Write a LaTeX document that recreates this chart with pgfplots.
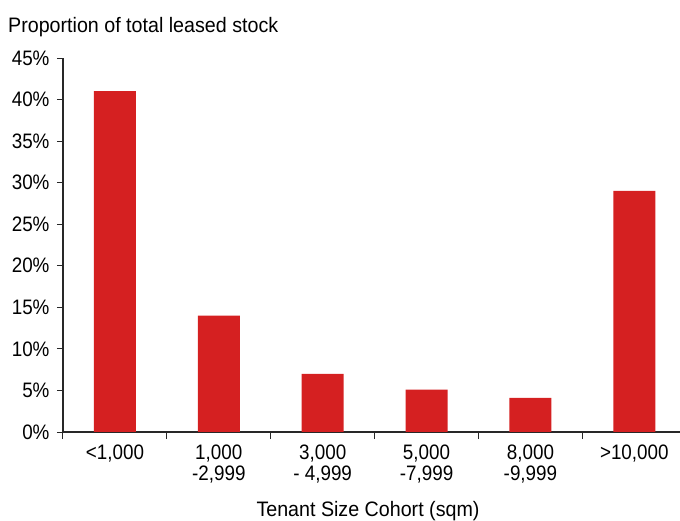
\documentclass[border=0pt]{standalone}
\usepackage{pgfplots}
\pgfplotsset{compat=1.18}
\usepackage{fontspec}
\setmainfont[FakeStretch=0.9]{Liberation Sans}
\newfontfamily\labelfont[FakeStretch=0.94]{Liberation Sans}
\definecolor{barred}{RGB}{213,32,33}
\definecolor{axisgray}{RGB}{40,40,40}
\begin{document}
\begin{tikzpicture}
\path[use as bounding box] (-63bp,-89bp) rectangle (617bp,432bp);
\begin{axis}[
  at={(0,0)}, anchor=south west,
  scale only axis, width=617bp, height=374bp,
  xmin=-0.5, xmax=5.44, ymin=0, ymax=45,
  axis lines*=left,
  axis line style={axisgray, line width=1.2bp},
  ytick={0,5,...,45},
  yticklabels={0\%,5\%,10\%,15\%,20\%,25\%,30\%,35\%,40\%,45\%},
  xtick={0,...,5},
  xticklabels={{<1,000},{1,000\\-2,999},{3,000\\- 4,999},{5,000\\-7,999},{8,000\\-9,999},{>10,000}},
  minor xtick={-0.5,0.5,1.5,2.5,3.5,4.5},
  major x tick style={draw=none},
  minor x tick style={axisgray, line width=1bp},
  major y tick style={axisgray, line width=1bp},
  tick align=outside,
  major tick length=6bp, minor tick length=7bp,
  tick label style={font=\fontsize{21}{21}\selectfont},
  xticklabel style={align=center, yshift=-3bp},
  yticklabel style={xshift=-4bp},
  /pgf/number format/assume math mode=true,
  ybar, bar width=0.405, bar shift=0pt,
]
\addplot[fill=barred, draw=none] coordinates {(0,41) (1,14) (2,7) (3,5.1) (4,4.1) (5,29)};
\end{axis}
\node[anchor=base west, font=\labelfont\fontsize{21}{23}\selectfont, inner sep=0pt] at (-55bp,399bp) {Proportion of total leased stock};
\node[anchor=base, font=\labelfont\fontsize{21}{23}\selectfont, inner sep=0pt] at (305bp,-84bp) {Tenant Size Cohort (sqm)};
\end{tikzpicture}
\end{document}
